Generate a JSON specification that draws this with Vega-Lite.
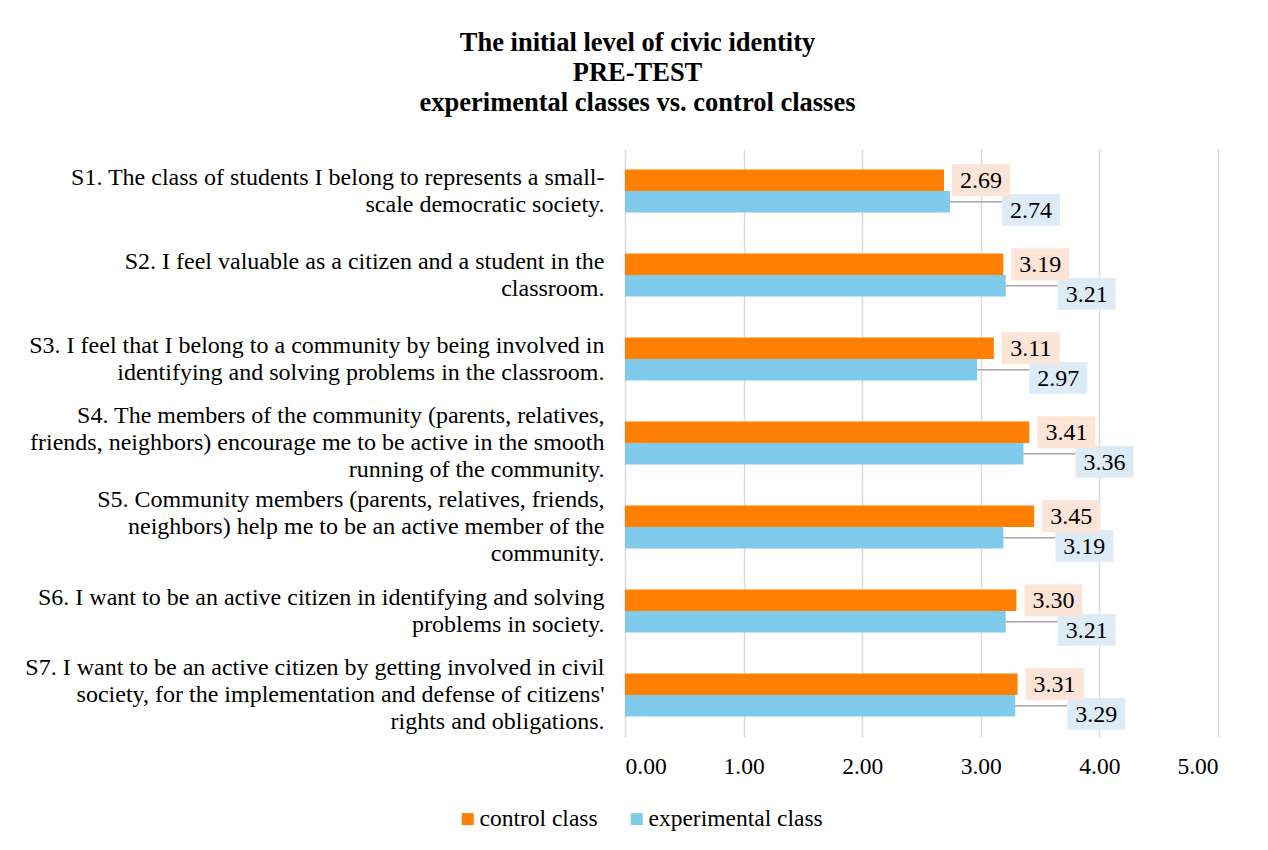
{
  "$schema": "https://vega.github.io/schema/vega-lite/v6.json",
  "width": 593,
  "height": 588,
  "autosize": {"type": "none"},
  "padding": {"left": 625, "top": 149, "right": 50, "bottom": 113},
  "background": "white",
  "config": {"font": "Liberation Serif", "view": {"stroke": null}},
  "title": {
    "text": ["The initial level of civic identity", "PRE-TEST", "experimental classes vs. control classes"],
    "font": "Liberation Serif",
    "fontSize": 26.5,
    "fontWeight": "bold",
    "color": "black",
    "lineHeight": 30,
    "anchor": "middle",
    "frame": "group",
    "dx": -284,
    "offset": 33
  },
  "data": {
    "values": [
      {"item": "S1. The class of students I belong to represents a small-|scale democratic society.", "series": "control class", "value": 2.69},
      {"item": "S1. The class of students I belong to represents a small-|scale democratic society.", "series": "experimental class", "value": 2.74},
      {"item": "S2. I feel valuable as a citizen and a student in the|classroom.", "series": "control class", "value": 3.19},
      {"item": "S2. I feel valuable as a citizen and a student in the|classroom.", "series": "experimental class", "value": 3.21},
      {"item": "S3. I feel that I belong to a community by being involved in|identifying and solving problems in the classroom.", "series": "control class", "value": 3.11},
      {"item": "S3. I feel that I belong to a community by being involved in|identifying and solving problems in the classroom.", "series": "experimental class", "value": 2.97},
      {"item": "S4. The members of the community (parents, relatives,|friends, neighbors) encourage me to be active in the smooth|running of the community.", "series": "control class", "value": 3.41},
      {"item": "S4. The members of the community (parents, relatives,|friends, neighbors) encourage me to be active in the smooth|running of the community.", "series": "experimental class", "value": 3.36},
      {"item": "S5. Community members (parents, relatives, friends,|neighbors) help me to be an active member of the|community.", "series": "control class", "value": 3.45},
      {"item": "S5. Community members (parents, relatives, friends,|neighbors) help me to be an active member of the|community.", "series": "experimental class", "value": 3.19},
      {"item": "S6. I want to be an active citizen in identifying and solving|problems in society.", "series": "control class", "value": 3.30},
      {"item": "S6. I want to be an active citizen in identifying and solving|problems in society.", "series": "experimental class", "value": 3.21},
      {"item": "S7. I want to be an active citizen by getting involved in civil|society, for the implementation and defense of citizens'|rights and obligations.", "series": "control class", "value": 3.31},
      {"item": "S7. I want to be an active citizen by getting involved in civil|society, for the implementation and defense of citizens'|rights and obligations.", "series": "experimental class", "value": 3.29}
    ]
  },
  "encoding": {
    "y": {
      "field": "item",
      "type": "nominal",
      "sort": null,
      "scale": {"paddingInner": 0.49, "paddingOuter": 0.245},
      "axis": {
        "title": null,
        "domain": false,
        "ticks": false,
        "labelExpr": "split(datum.label, '|')",
        "labelAlign": "right",
        "labelBaseline": "middle",
        "labelLineHeight": 27,
        "labelFontSize": 24,
        "labelFont": "Liberation Serif",
        "labelColor": "black",
        "labelPadding": 21,
        "labelLimit": 0,
        "labelOffset": {
          "condition": {"test": "length(split(datum.label, '|')) == 3", "value": -27},
          "value": -13.5
        }
      }
    },
    "yOffset": {
      "field": "series",
      "type": "nominal",
      "sort": ["control class", "experimental class"],
      "scale": {"paddingInner": 0, "paddingOuter": 0}
    }
  },
  "layer": [
    {
      "mark": {"type": "bar"},
      "encoding": {
        "x": {
          "field": "value",
          "type": "quantitative",
          "scale": {"domain": [0, 5], "nice": false},
          "axis": {
            "title": null,
            "values": [0, 1, 2, 3, 4, 5],
            "format": ".2f",
            "grid": true,
            "gridColor": "#D9D9D9",
            "gridWidth": 1.5,
            "domain": false,
            "ticks": false,
            "labelFontSize": 23.5,
            "labelFont": "Liberation Serif",
            "labelColor": "black",
            "labelPadding": 17
          }
        },
        "color": {
          "field": "series",
          "type": "nominal",
          "scale": {"domain": ["control class", "experimental class"], "range": ["#FF8000", "#80CBEB"]},
          "legend": {
            "title": null,
            "orient": "none",
            "direction": "horizontal",
            "legendX": -169,
            "legendY": 658,
            "symbolType": "square",
            "symbolSize": 144,
            "symbolStrokeWidth": 0,
            "labelFontSize": 23.5,
            "labelFont": "Liberation Serif",
            "labelColor": "black",
            "labelLimit": 0,
            "columnPadding": 27,
            "labelOffset": 0
          }
        }
      }
    },
    {
      "transform": [{"filter": "datum.series === 'experimental class'"}],
      "mark": {"type": "rule", "color": "#A6A6A6", "strokeWidth": 1.5, "x2Offset": 52},
      "encoding": {
        "x": {"field": "value", "type": "quantitative"},
        "x2": {"field": "value"}
      }
    },
    {
      "transform": [{"filter": "datum.series === 'experimental class'"}],
      "mark": {"type": "point", "shape": "M-1,-0.27H1V0.83H-1Z", "filled": true, "fill": "#DDEBF7", "opacity": 1, "size": 3364, "xOffset": 81, "strokeWidth": 0},
      "encoding": {
        "x": {"field": "value", "type": "quantitative"}
      }
    },
    {
      "transform": [{"filter": "datum.series === 'experimental class'"}],
      "mark": {"type": "text", "fontSize": 24, "font": "Liberation Serif", "color": "black", "align": "center", "baseline": "middle", "dx": 81, "dy": 9},
      "encoding": {
        "x": {"field": "value", "type": "quantitative"},
        "text": {"field": "value", "type": "quantitative", "format": ".2f"}
      }
    },
    {
      "transform": [{"filter": "datum.series === 'control class'"}],
      "mark": {"type": "point", "shape": "M-1,-0.55H1V0.55H-1Z", "filled": true, "fill": "#FCE4D6", "opacity": 1, "size": 3364, "xOffset": 37, "strokeWidth": 0},
      "encoding": {
        "x": {"field": "value", "type": "quantitative"}
      }
    },
    {
      "transform": [{"filter": "datum.series === 'control class'"}],
      "mark": {"type": "text", "fontSize": 24, "font": "Liberation Serif", "color": "black", "align": "center", "baseline": "middle", "dx": 37, "dy": 1},
      "encoding": {
        "x": {"field": "value", "type": "quantitative"},
        "text": {"field": "value", "type": "quantitative", "format": ".2f"}
      }
    }
  ]
}
